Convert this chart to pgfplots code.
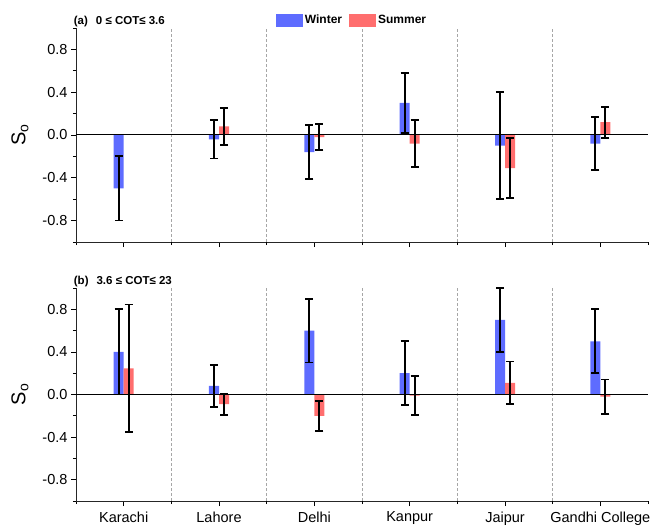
\documentclass[border=0pt]{standalone}
\usepackage{pgfplots}
\pgfplotsset{compat=1.18}
\usepackage{fontspec}
\setmainfont{Liberation Sans}

\definecolor{winter}{RGB}{94,108,255}
\definecolor{summer}{RGB}{255,110,110}

\pgfplotsset{
  panel/.style={
    scale only axis, width=572pt,
    xmin=-0.5, xmax=5.5, ymin=-1, ymax=1,
    axis lines=left,
    x axis line style={-}, y axis line style={-},
    axis line style={line width=0.8pt, black!85},
    clip=false,
    xtick={0,...,5}, minor xtick={-0.5,5.5},
    extra x ticks={0.5,1.5,2.5,3.5,4.5}, extra x tick labels={},
    extra x tick style={grid=major,
      major grid style={densely dashed, gray!70, line width=0.6pt},
      major tick length=3pt},
    ytick={-0.8,-0.4,0,0.4,0.8}, minor ytick={-1,-0.6,-0.2,0.2,0.6,1},
    tick align=outside, major tick length=5pt, minor tick length=3pt,
    tick style={black, line width=0.8pt},
    yticklabel style={/pgf/number format/.cd, fixed, fixed zerofill,
      precision=1, assume math mode=true},
    ticklabel style={font=\fontsize{14.5}{16}\selectfont},
    xticklabel style={yshift=-2pt},
    ylabel={S\textsubscript{o}},
    ylabel style={at={(axis description cs:-0.098,0.5)}, anchor=center,
      rotate=0, font=\fontsize{20}{22}\selectfont},
    ybar=0pt, bar width=10pt,
  },
  winterbar/.style={fill=winter, draw=none,
    error bars/.cd, y dir=both, y explicit,
    error bar style={draw=black, solid, line width=1.8pt},
    error mark options={draw=black, solid, rotate=90, mark size=4pt, line width=1.8pt}},
  summerbar/.style={fill=summer, draw=none,
    error bars/.cd, y dir=both, y explicit,
    error bar style={draw=black, solid, line width=1.8pt},
    error mark options={draw=black, solid, rotate=90, mark size=4pt, line width=1.8pt}},
}

\begin{document}
\begin{tikzpicture}
\useasboundingbox (0,0) rectangle (656pt,528pt);

% (a) optically thin clouds
\begin{axis}[panel, height=214pt, at={(76pt,286pt)}, anchor=south west,
  xticklabels={},
  legend columns=2,
  legend style={at={(axis description cs:0.4825,1.037)}, anchor=center,
    draw=none, fill=none, font=\bfseries\fontsize{12}{13}\selectfont,
    /tikz/every even column/.append style={column sep=5pt},
    nodes={inner sep=2pt}},
  legend image code/.code={\fill[#1] (0pt,-6.5pt) rectangle (27pt,6.5pt);},
]
\addplot[winterbar] coordinates {
  (0,-0.50) +- (0,0.30)
  (1,-0.04) +- (0,0.18)
  (2,-0.16) +- (0,0.25)
  (3,0.30)  +- (0,0.28)
  (4,-0.10) +- (0,0.50)
  (5,-0.08) +- (0,0.25)
};
\addlegendentry{Winter}
\addplot[summerbar] coordinates {
  (1,0.08)  +- (0,0.17)
  (2,-0.02) +- (0,0.12)
  (3,-0.08) +- (0,0.22)
  (4,-0.31) +- (0,0.28)
  (5,0.12)  +- (0,0.145)
};
\addlegendentry{Summer}
\draw[black, line width=1pt] (axis cs:-0.5,0) -- (axis cs:5.5,0);
\node[anchor=base west, inner sep=0, font=\bfseries\fontsize{11.5}{12}\selectfont]
  at (axis description cs:-0.004,1.018) {(a)\hspace{8pt}0 ≤ COT≤ 3.6};
\end{axis}

% (b) optically thicker clouds
\begin{axis}[panel, height=213pt, at={(76pt,27pt)}, anchor=south west,
  xticklabels={Karachi, Lahore, Delhi, Kanpur, Jaipur, Gandhi College},
]
\addplot[winterbar] coordinates {
  (0,0.40) +- (0,0.40)
  (1,0.08) +- (0,0.20)
  (2,0.60) +- (0,0.30)
  (3,0.20) +- (0,0.30)
  (4,0.70) +- (0,0.30)
  (5,0.50) +- (0,0.30)
};
\addplot[summerbar] coordinates {
  (0,0.245) +- (0,0.60)
  (1,-0.09) +- (0,0.10)
  (2,-0.20) +- (0,0.14)
  (3,-0.01) +- (0,0.18)
  (4,0.11)  +- (0,0.20)
  (5,-0.02) +- (0,0.16)
};
\draw[black, line width=1pt] (axis cs:-0.5,0) -- (axis cs:5.5,0);
\node[anchor=base west, inner sep=0, font=\bfseries\fontsize{11.5}{12}\selectfont]
  at (axis description cs:-0.004,1.018) {(b)\hspace{8pt}3.6 ≤ COT≤ 23};
\end{axis}
\end{tikzpicture}
\end{document}
